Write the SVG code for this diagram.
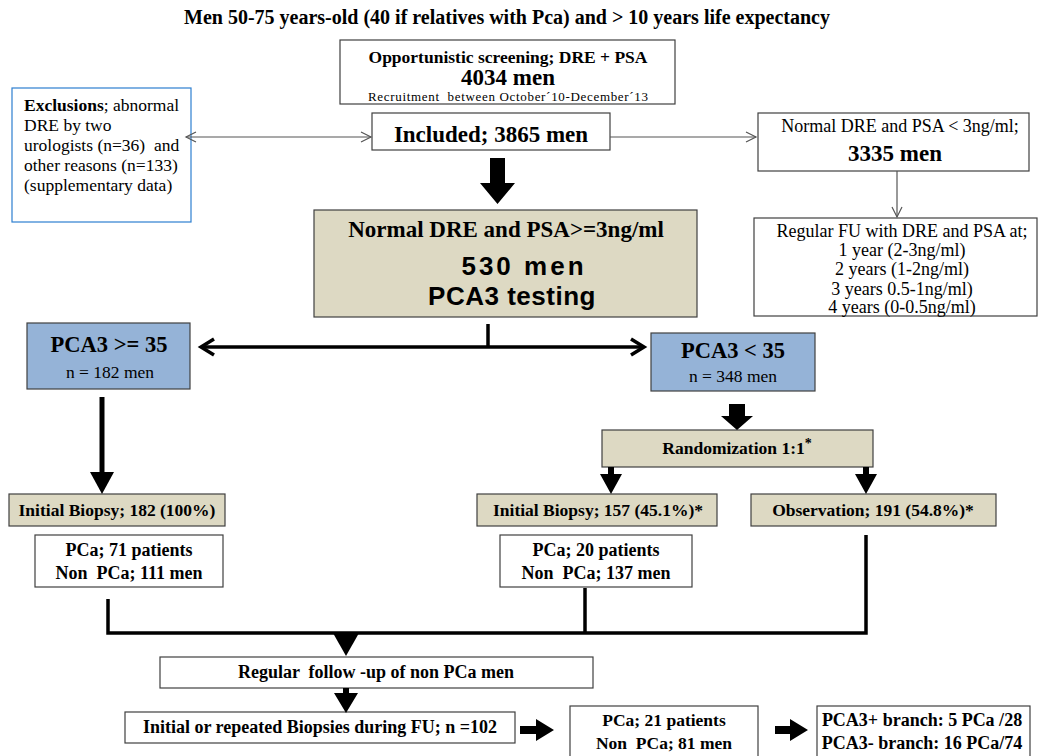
<svg xmlns="http://www.w3.org/2000/svg" width="1039" height="756" viewBox="0 0 1039 756">
<style>
text{font-family:"Liberation Serif","Times New Roman",serif;fill:#000;white-space:pre}
.b{font-weight:bold}
.c{text-anchor:middle}
.box{fill:#fff;stroke:#404040;stroke-width:1.2}
.tan{fill:#ddd9c3;stroke:#404040;stroke-width:1.2}
.blue{fill:#95b3d7;stroke:#404040;stroke-width:1.2}
.thin{fill:none;stroke:#555;stroke-width:1.2}
.thick{fill:none;stroke:#000;stroke-width:3.5}
.fill{fill:#000;stroke:none}
.sans{font-family:"Liberation Sans",Arial,sans-serif}
.t18{font-size:18px}
.t17{font-size:17.5px}
</style>
<rect width="1039" height="756" fill="#fff"/>
<text id="title" class="b c" x="507" y="24" font-size="20">Men 50-75 years-old (40 if relatives with Pca) and &gt; 10 years life expectancy</text>

<g id="screening">
<rect class="box" x="340" y="40" width="335" height="64"/>
<text class="b c" x="508" y="63" font-size="17.5">Opportunistic screening; DRE + PSA</text>
<text class="b c" x="508" y="85" font-size="23">4034 men</text>
<text class="c" x="508" y="101" font-size="13" textLength="280" lengthAdjust="spacing">Recruitment  between October´10-December´13</text>
</g>

<g id="exclusions">
<rect x="12" y="88" width="179" height="134" fill="#fff" stroke="#2e7fd0" stroke-width="1.2"/>
<text class="t17" x="24" y="111"><tspan class="b">Exclusions</tspan>; abnormal</text>
<text class="t17" x="24" y="131">DRE by two</text>
<text class="t17" x="24" y="151">urologists (n=36)  and</text>
<text class="t17" x="24" y="171">other reasons (n=133)</text>
<text class="t17" x="24" y="191">(supplementary data)</text>
</g>

<g id="included">
<rect class="box" x="372" y="113" width="238" height="37"/>
<text class="b c" x="491" y="142" font-size="23">Included; 3865 men</text>
</g>

<g id="normal-low">
<rect class="box" x="758" y="113" width="271" height="58"/>
<text class="c t18" x="900" y="132">Normal DRE and PSA &lt; 3ng/ml;</text>
<text class="b c" x="895" y="161" font-size="23">3335 men</text>
</g>

<g id="regular-fu">
<rect class="box" x="754" y="218" width="283" height="98"/>
<text class="c t18" x="902" y="237">Regular FU with DRE and PSA at;</text>
<text class="c t18" x="902" y="256">1 year (2-3ng/ml)</text>
<text class="c t18" x="902" y="275">2 years (1-2ng/ml)</text>
<text class="c t18" x="902" y="295">3 years 0.5-1ng/ml)</text>
<text class="c t18" x="902" y="313">4 years (0-0.5ng/ml)</text>
</g>

<g id="pca3-testing">
<rect class="tan" x="314" y="210" width="383" height="107"/>
<text class="b c" x="506" y="237" font-size="23">Normal DRE and PSA&gt;=3ng/ml</text>
<text class="b c sans" x="524" y="275" font-size="26" letter-spacing="3">530 men</text>
<text class="b c sans" x="512" y="305" font-size="26" letter-spacing="0.5">PCA3 testing</text>
</g>

<g id="pca3-high">
<rect class="blue" x="27" y="323" width="163" height="66"/>
<text class="b c" x="109" y="352" font-size="22.5">PCA3 &gt;= 35</text>
<text class="c t17" x="110" y="378">n = 182 men</text>
</g>

<g id="pca3-low">
<rect class="blue" x="651" y="333" width="164" height="58"/>
<text class="b c" x="733" y="358" font-size="22.5">PCA3 &lt; 35</text>
<text class="c t17" x="733" y="382">n = 348 men</text>
</g>

<g id="randomization">
<rect class="tan" x="602" y="430" width="271" height="37"/>
<text class="b c t17" x="737" y="454">Randomization 1:1<tspan font-size="14" dy="-6">*</tspan></text>
</g>

<g id="biopsy-182">
<rect class="tan" x="9" y="494" width="216" height="32"/>
<text class="b c t17" x="117" y="516">Initial Biopsy; 182 (100%)</text>
</g>

<g id="biopsy-157">
<rect class="tan" x="477" y="494" width="240" height="32"/>
<text class="b c t17" x="598" y="516">Initial Biopsy; 157 (45.1%)*</text>
</g>

<g id="observation">
<rect class="tan" x="751" y="494" width="245" height="32"/>
<text class="b c t17" x="873" y="516">Observation; 191 (54.8%)*</text>
</g>

<g id="result-71">
<rect class="box" x="35" y="535" width="188" height="52"/>
<text class="b c t18" x="129" y="556">PCa; 71 patients</text>
<text class="b c t18" x="129" y="579">Non  PCa; 111 men</text>
</g>

<g id="result-20">
<rect class="box" x="500" y="535" width="192" height="52"/>
<text class="b c t18" x="596" y="556">PCa; 20 patients</text>
<text class="b c t18" x="596" y="579">Non  PCa; 137 men</text>
</g>

<g id="followup">
<rect class="box" x="160" y="657" width="433" height="31"/>
<text class="b c t18" x="376" y="678">Regular  follow -up of non PCa men</text>
</g>

<g id="fu-biopsies">
<rect class="box" x="125" y="712" width="390" height="31"/>
<text class="b c t18" x="320" y="733">Initial or repeated Biopsies during FU; n =102</text>
</g>

<g id="result-21">
<rect class="box" x="570" y="706" width="188" height="60"/>
<text class="b c t17" x="664" y="726">PCa; 21 patients</text>
<text class="b c t17" x="664" y="749">Non  PCa; 81 men</text>
</g>

<g id="branches">
<rect class="box" x="817" y="706" width="213" height="60"/>
<text class="b c t18" x="922" y="726">PCA3+ branch: 5 PCa /28</text>
<text class="b c t18" x="922" y="749">PCA3- branch: 16 PCa/74</text>
</g>

<g id="connectors">
<path class="thin" d="M186 137 H371"/>
<path class="thin" d="M196 132 L186 137 L196 142"/>
<path class="thin" d="M361 132 L371 137 L361 142"/>
<path class="thin" d="M610 137 H756"/>
<path class="thin" d="M746 132 L756 137 L746 142"/>
<path class="thin" d="M897 171 V217"/>
<path class="thin" d="M892 207 L897 217 L902 207"/>
<path class="fill" d="M490 158 H505 V183 H515 L497.5 204 L480 183 H490 Z"/>
<path class="thick" d="M488 324 V347"/>
<path class="thick" d="M201 347 H644"/>
<path class="thick" d="M214 339 L201 347 L214 355"/>
<path class="thick" d="M631 339 L644 347 L631 355"/>
<path d="M102 397 V474" stroke="#000" stroke-width="5" fill="none"/>
<path class="fill" d="M90 472 H114 L102 494 Z"/>
<path class="fill" d="M729 404 H745 V416 H753 L737 430 L721 416 H729 Z"/>
<path class="fill" d="M608 467 H614 V474 H622 L611 494 L600 474 H608 Z"/>
<path class="fill" d="M863 467 H869 V474 H877 L866 494 L855 474 H863 Z"/>
<path class="thick" d="M108 599 V633 H866 V535" stroke-width="4"/>
<path class="thick" d="M585 588 V633" stroke-width="4"/>
<path class="fill" d="M333 633 H359 L346 656 Z"/>
<path class="fill" d="M343 688 H349 V693 H358 L346 713 L334 693 H343 Z"/>
<path class="fill" d="M520 726 H536 V719 L554 730 L536 741 V734 H520 Z"/>
<path class="fill" d="M775 726 H790 V719 L808 730 L790 741 V734 H775 Z"/>
</g>
</svg>
